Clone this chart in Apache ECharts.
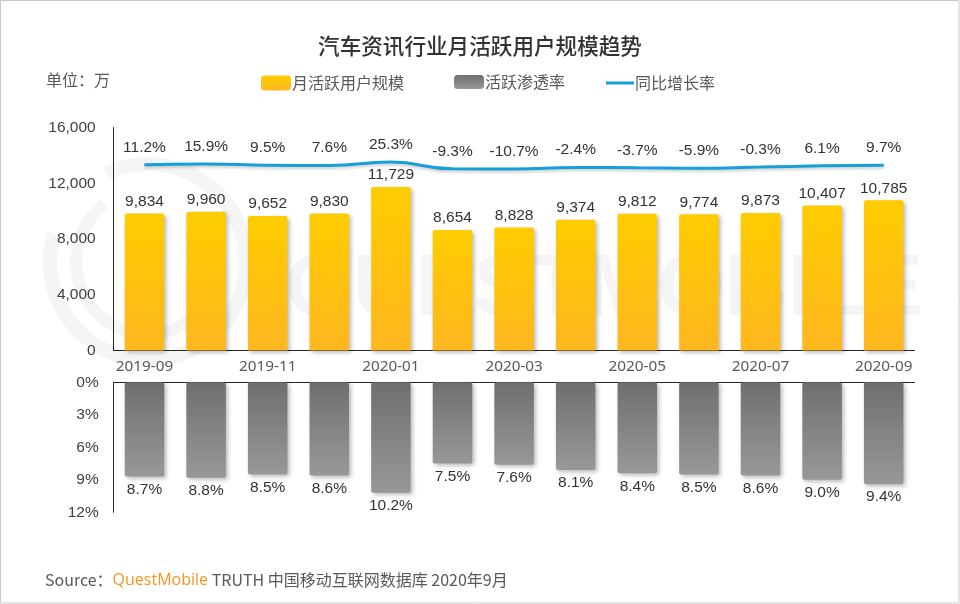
<!DOCTYPE html>
<html><head><meta charset="utf-8">
<style>html,body{margin:0;padding:0;background:#fff}#c{width:960px;height:604px}</style>
<script src="https://cdn.jsdelivr.net/npm/echarts@6/dist/echarts.min.js"></script></head>
<body><div id="c"></div><script>
const categories=['2019-09','2019-10','2019-11','2019-12','2020-01','2020-02','2020-03','2020-04','2020-05','2020-06','2020-07','2020-08','2020-09'];
const mau=[9834,9960,9652,9830,11729,8654,8828,9374,9812,9774,9873,10407,10785];
const penetration=[8.7,8.8,8.5,8.6,10.2,7.5,7.6,8.1,8.4,8.5,8.6,9.0,9.4];
const growth=[11.2,15.9,9.5,7.6,25.3,-9.3,-10.7,-2.4,-3.7,-5.9,-0.3,6.1,9.7];
const names=['月活跃用户规模','活跃渗透率','同比增长率'];
const latin='"Liberation Sans",Arial,sans-serif', cjk='"Noto Sans CJK SC","Noto Sans",sans-serif';
const grad=(a,b)=>({type:'linear',x:0,y:0,x2:0,y2:1,colorStops:[{offset:0,color:a},{offset:1,color:b}]});
const shadow={shadowColor:'rgba(0,0,0,0.28)',shadowBlur:4,shadowOffsetX:2,shadowOffsetY:2};
const axisLine={show:true,lineStyle:{color:'#262626',width:1}};
const wm='#f5f5f5';
const legendText={fontFamily:cjk,fontSize:16,color:'#595959',padding:[0,0,0,-4]};
const chart=echarts.init(document.getElementById('c'),null,{renderer:'canvas'});
chart.setOption({
 animation:false,backgroundColor:'#fff',
 title:{text:'汽车资讯行业月活跃用户规模趋势',left:'center',top:30,textStyle:{fontFamily:cjk,fontSize:21.6,fontWeight:500,color:'#333'}},
 legend:[
  {data:[names[0]],left:261,top:75,padding:0,itemWidth:30,itemHeight:15,icon:'roundRect',textStyle:legendText},
  {data:[names[1]],left:454,top:74,padding:0,itemWidth:30,itemHeight:14,icon:'roundRect',textStyle:legendText},
  {data:[{name:names[2],icon:'rect'}],left:606,top:75,padding:0,itemWidth:28,itemHeight:3,textStyle:legendText}
 ],
 grid:[{left:113.7,width:800.8,top:127.6,height:222.8},{left:113.7,width:800.8,top:382.3,height:130}],
 xAxis:[
  {type:'category',gridIndex:0,data:categories,axisLine:axisLine,axisTick:{show:false},
   axisLabel:{interval:1,margin:9,fontFamily:'"Noto Sans",sans-serif',fontSize:15.3,color:'#595959'}},
  {type:'category',gridIndex:1,position:'top',data:categories,axisLine:axisLine,axisTick:{show:false},axisLabel:{show:false}}
 ],
 yAxis:[
  {type:'value',gridIndex:0,min:0,max:16000,interval:4000,splitLine:{show:false},axisLine:axisLine,axisTick:{show:false},
   axisLabel:{margin:18,fontFamily:latin,fontSize:15.5,color:'#404040',formatter:v=>v.toLocaleString('en-US')}},
  {type:'value',gridIndex:1,inverse:true,min:0,max:12,interval:3,splitLine:{show:false},axisLine:axisLine,axisTick:{show:false},
   axisLabel:{margin:15,fontFamily:latin,fontSize:15.5,color:'#404040',formatter:'{value}%'}},
  {type:'value',gridIndex:0,min:-944,max:203,show:false,splitLine:{show:false}}
 ],
 series:[
  {name:names[0],type:'bar',xAxisIndex:0,yAxisIndex:0,data:mau,barWidth:39.5,
   itemStyle:Object.assign({color:grad('#ffcc00','#ffb71f'),borderRadius:[2,2,0,0]},shadow),
   label:{show:true,position:'top',distance:4,fontFamily:latin,fontSize:15.5,color:'#333',formatter:p=>p.value.toLocaleString('en-US')}},
  {name:names[1],type:'bar',xAxisIndex:1,yAxisIndex:1,data:penetration,barWidth:39.5,
   itemStyle:Object.assign({color:grad('#6f6f6f','#989898'),borderRadius:[2,2,2,2]},shadow),
   label:{show:true,position:'bottom',distance:5,fontFamily:latin,fontSize:15.5,color:'#333',formatter:p=>p.value.toFixed(1)+'%'}},
  {name:names[2],type:'line',xAxisIndex:0,yAxisIndex:2,data:growth,smooth:true,showSymbol:true,symbol:'circle',symbolSize:1,z:5,
   lineStyle:{color:'#169fd8',width:3,shadowColor:'rgba(0,0,0,0.2)',shadowBlur:3,shadowOffsetY:2},itemStyle:{color:'#169fd8'},
   label:{show:true,position:'top',distance:9,fontFamily:latin,fontSize:15.5,color:'#333',formatter:p=>p.value.toFixed(1)+'%'}}
 ],
 graphic:[
  {type:'rect',z:-10,silent:true,shape:{x:0.5,y:0.5,width:958.5,height:602.5},style:{fill:'none',stroke:'#c8c8c8',lineWidth:1}},
  {type:'arc',z:-10,silent:true,shape:{cx:148,cy:262,r:98,startAngle:-115*Math.PI/180,endAngle:197*Math.PI/180,clockwise:true},style:{fill:'none',stroke:wm,lineWidth:14}},
  {type:'arc',z:-10,silent:true,shape:{cx:148,cy:262,r:72,startAngle:40*Math.PI/180,endAngle:233*Math.PI/180,clockwise:true},style:{fill:'none',stroke:wm,lineWidth:12}},
  {type:'text',z:-10,silent:true,style:{x:285,y:291,text:'QUESTMOBILE',verticalAlign:'middle',fill:wm,font:'bold 87px "Liberation Sans",Arial,sans-serif'}},
  {type:'text',silent:true,style:{x:46,y:80,text:'单位\uFF1A万',verticalAlign:'middle',fill:'#595959',font:'16px '+cjk}},
  {type:'text',silent:true,style:{x:45,y:580,verticalAlign:'middle',
    text:'{a|Source\uFF1A}{b|QuestMobile}{a| TRUTH 中国移动互联网数据库 2020年9月}',
    rich:{a:{fontFamily:cjk,fontSize:16,fill:'#595959',color:'#595959'},b:{fontFamily:'"Open Sans",sans-serif',fontSize:16,fill:'#f7941d',color:'#f7941d'}}}}
 ]
});
</script></body></html>
